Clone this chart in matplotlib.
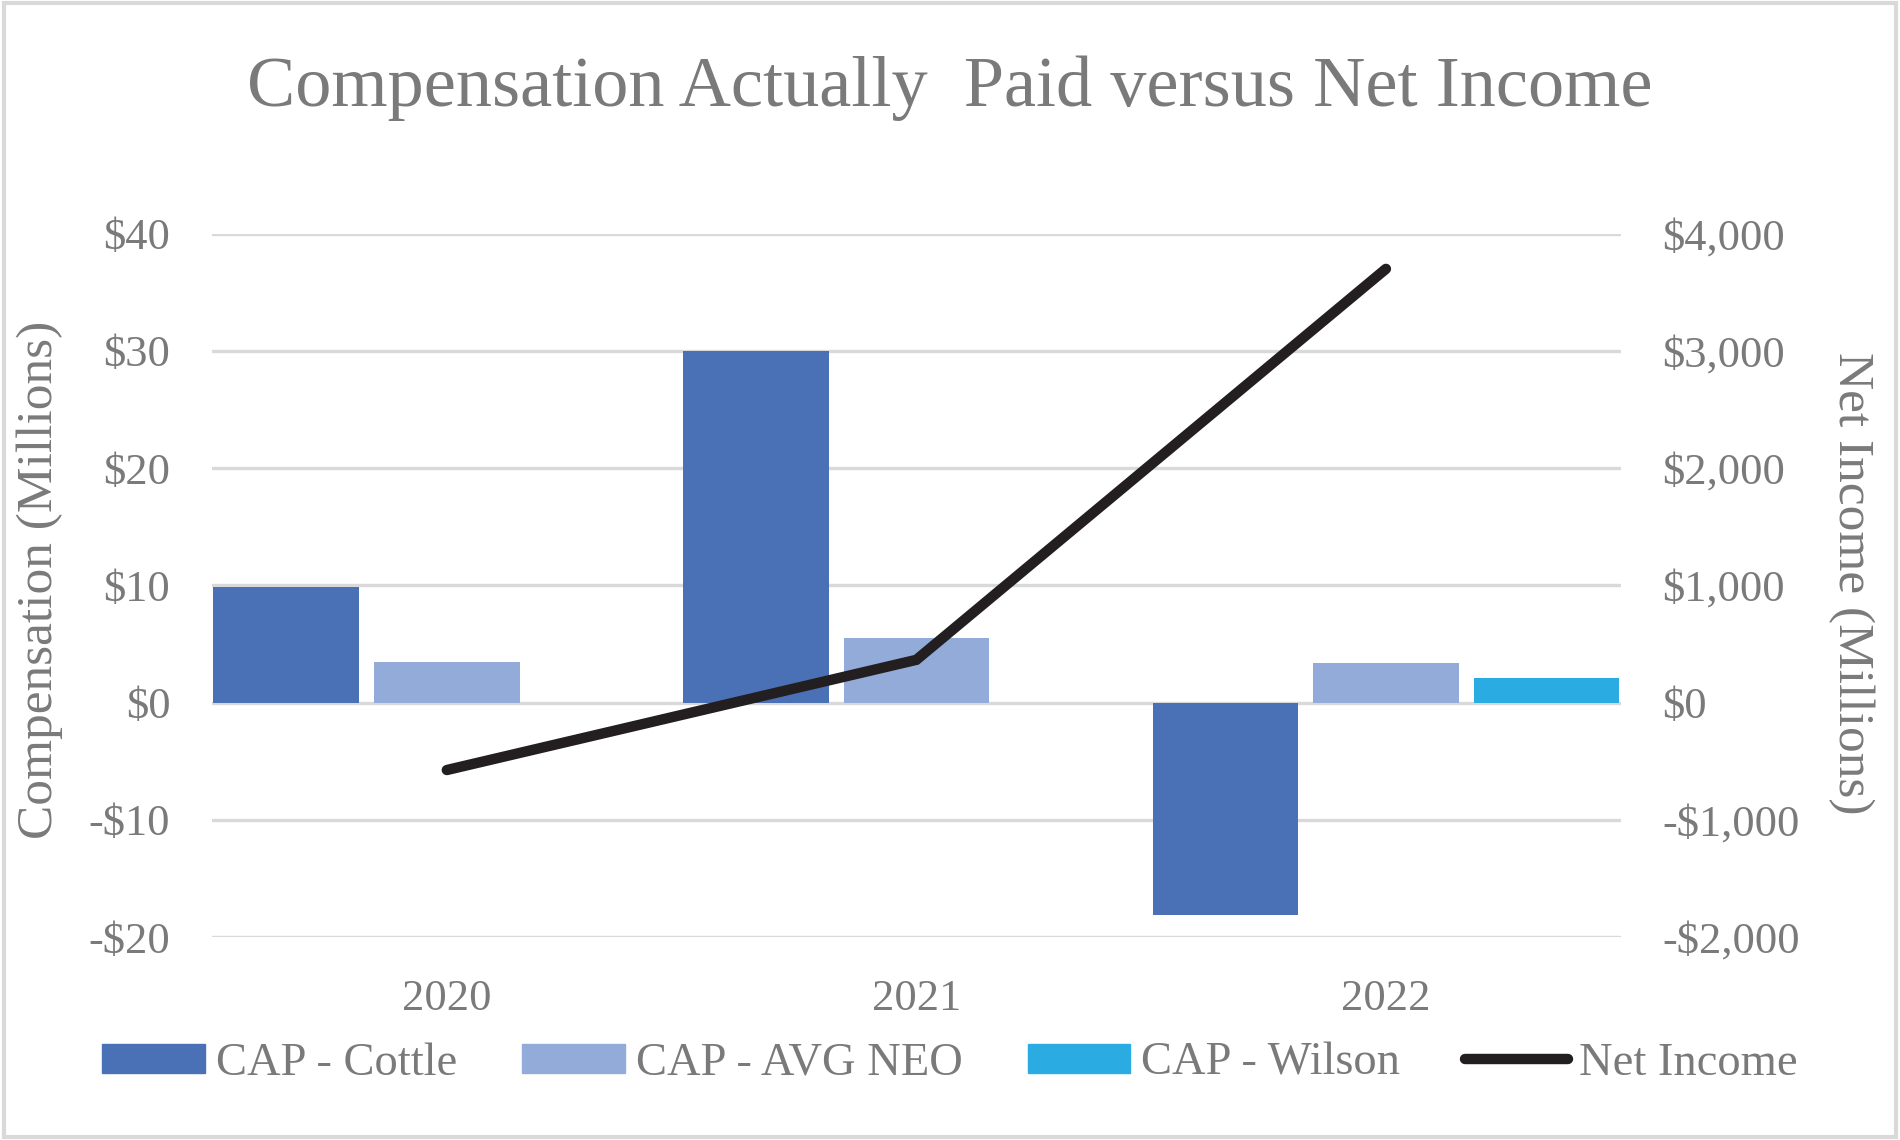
"""
Compensation actually paid versus net income
"""

import matplotlib.pyplot as plt
import numpy as np
from matplotlib.patches import Rectangle
from matplotlib.lines import Line2D

YEARS = ["2020", "2021", "2022"]
CAP_COTTLE = [9.9, 30.0, -18.1]
CAP_AVG_NEO = [3.5, 5.5, 3.4]
CAP_WILSON = [np.nan, np.nan, 2.1]
NET_INCOME = [-575, 365, 3700]

COLORS = ["#4a71b6", "#92abd9", "#2aace2"]
LINE_COLOR = "#231f20"
TEXT_COLOR = "#7a7a7a"
GRID_COLOR = "#d9d9d9"


def money(v, _pos=None):
    # format the tick as dollars
    if v < 0:
        return f"-${abs(v):,.0f}"
    return f"${v:,.0f}"


def plot_cap_vs_net_income() -> None:
    plt.rcParams["font.family"] = ["Liberation Serif", "DejaVu Serif"]

    fig = plt.figure(figsize=(19, 11.4), dpi=100)
    ax = fig.add_axes([0.1116, 0.178, 0.7414, 0.617])

    x = np.arange(len(YEARS))
    width = 0.31
    offset = 0.342
    series = [CAP_COTTLE, CAP_AVG_NEO, CAP_WILSON]
    for i, (vals, color) in enumerate(zip(series, COLORS)):
        ax.bar(x + (i - 1) * offset, vals, width=width, color=color, zorder=2)

    ax.set_xlim(-0.5, 2.5)
    ax.set_ylim(-20, 40)
    ax.set_yticks(range(-20, 41, 10))
    ax.yaxis.set_major_formatter(money)
    ax.set_xticks(x)
    ax.set_xticklabels(YEARS)
    ax.grid(axis="y", color=GRID_COLOR, linewidth=2.4, zorder=0)
    ax.set_axisbelow(True)
    ax.tick_params(axis="y", length=0, pad=30, labelsize=32, labelcolor=TEXT_COLOR)
    ax.tick_params(axis="x", length=0, pad=30, labelsize=32, labelcolor=TEXT_COLOR)
    for spine in ax.spines.values():
        spine.set_visible(False)

    # net income on the right axis
    ax2 = ax.twinx()
    ax2.plot(x, NET_INCOME, color=LINE_COLOR, linewidth=7.5,
             solid_capstyle="round", solid_joinstyle="miter", zorder=5)
    ax2.set_ylim(-2000, 4000)
    ax2.set_yticks(range(-2000, 4001, 1000))
    ax2.yaxis.set_major_formatter(money)
    ax2.tick_params(axis="y", length=0, pad=30, labelsize=32, labelcolor=TEXT_COLOR)
    for spine in ax2.spines.values():
        spine.set_visible(False)

    # titles and axis labels
    fig.text(0.5, 0.923, "Compensation Actually  Paid versus Net Income",
             ha="center", va="center", fontsize=52, color=TEXT_COLOR)
    fig.text(0.021, 0.491, "Compensation (Millions)", rotation=90,
             ha="center", va="center", fontsize=37, color=TEXT_COLOR)
    fig.text(0.974, 0.488, "Net Income (Millions)", rotation=270,
             ha="center", va="center", fontsize=37, color=TEXT_COLOR)

    # legend
    handles = [Rectangle((0, 0), 1, 1, color=c) for c in COLORS]
    handles.append(Line2D([0], [0], color=LINE_COLOR, linewidth=7.5,
                          solid_capstyle="round"))
    labels = ["CAP - Cottle", "CAP - AVG NEO", "CAP - Wilson", "Net Income"]
    fig.legend(handles, labels, loc="center", bbox_to_anchor=(0.5, 0.067),
               ncol=4, frameon=False, fontsize=33.5, labelcolor=TEXT_COLOR,
               handlelength=2.2, handleheight=0.6, handletextpad=0.24,
               columnspacing=1.4)

    # light frame around the chart
    fig.patches.append(Rectangle((0.002, 0.003), 0.996, 0.994,
                                 transform=fig.transFigure, fill=False,
                                 edgecolor=GRID_COLOR, linewidth=3))

    fig.savefig("out.png", dpi=100)


if __name__ == "__main__":
    plot_cap_vs_net_income()
